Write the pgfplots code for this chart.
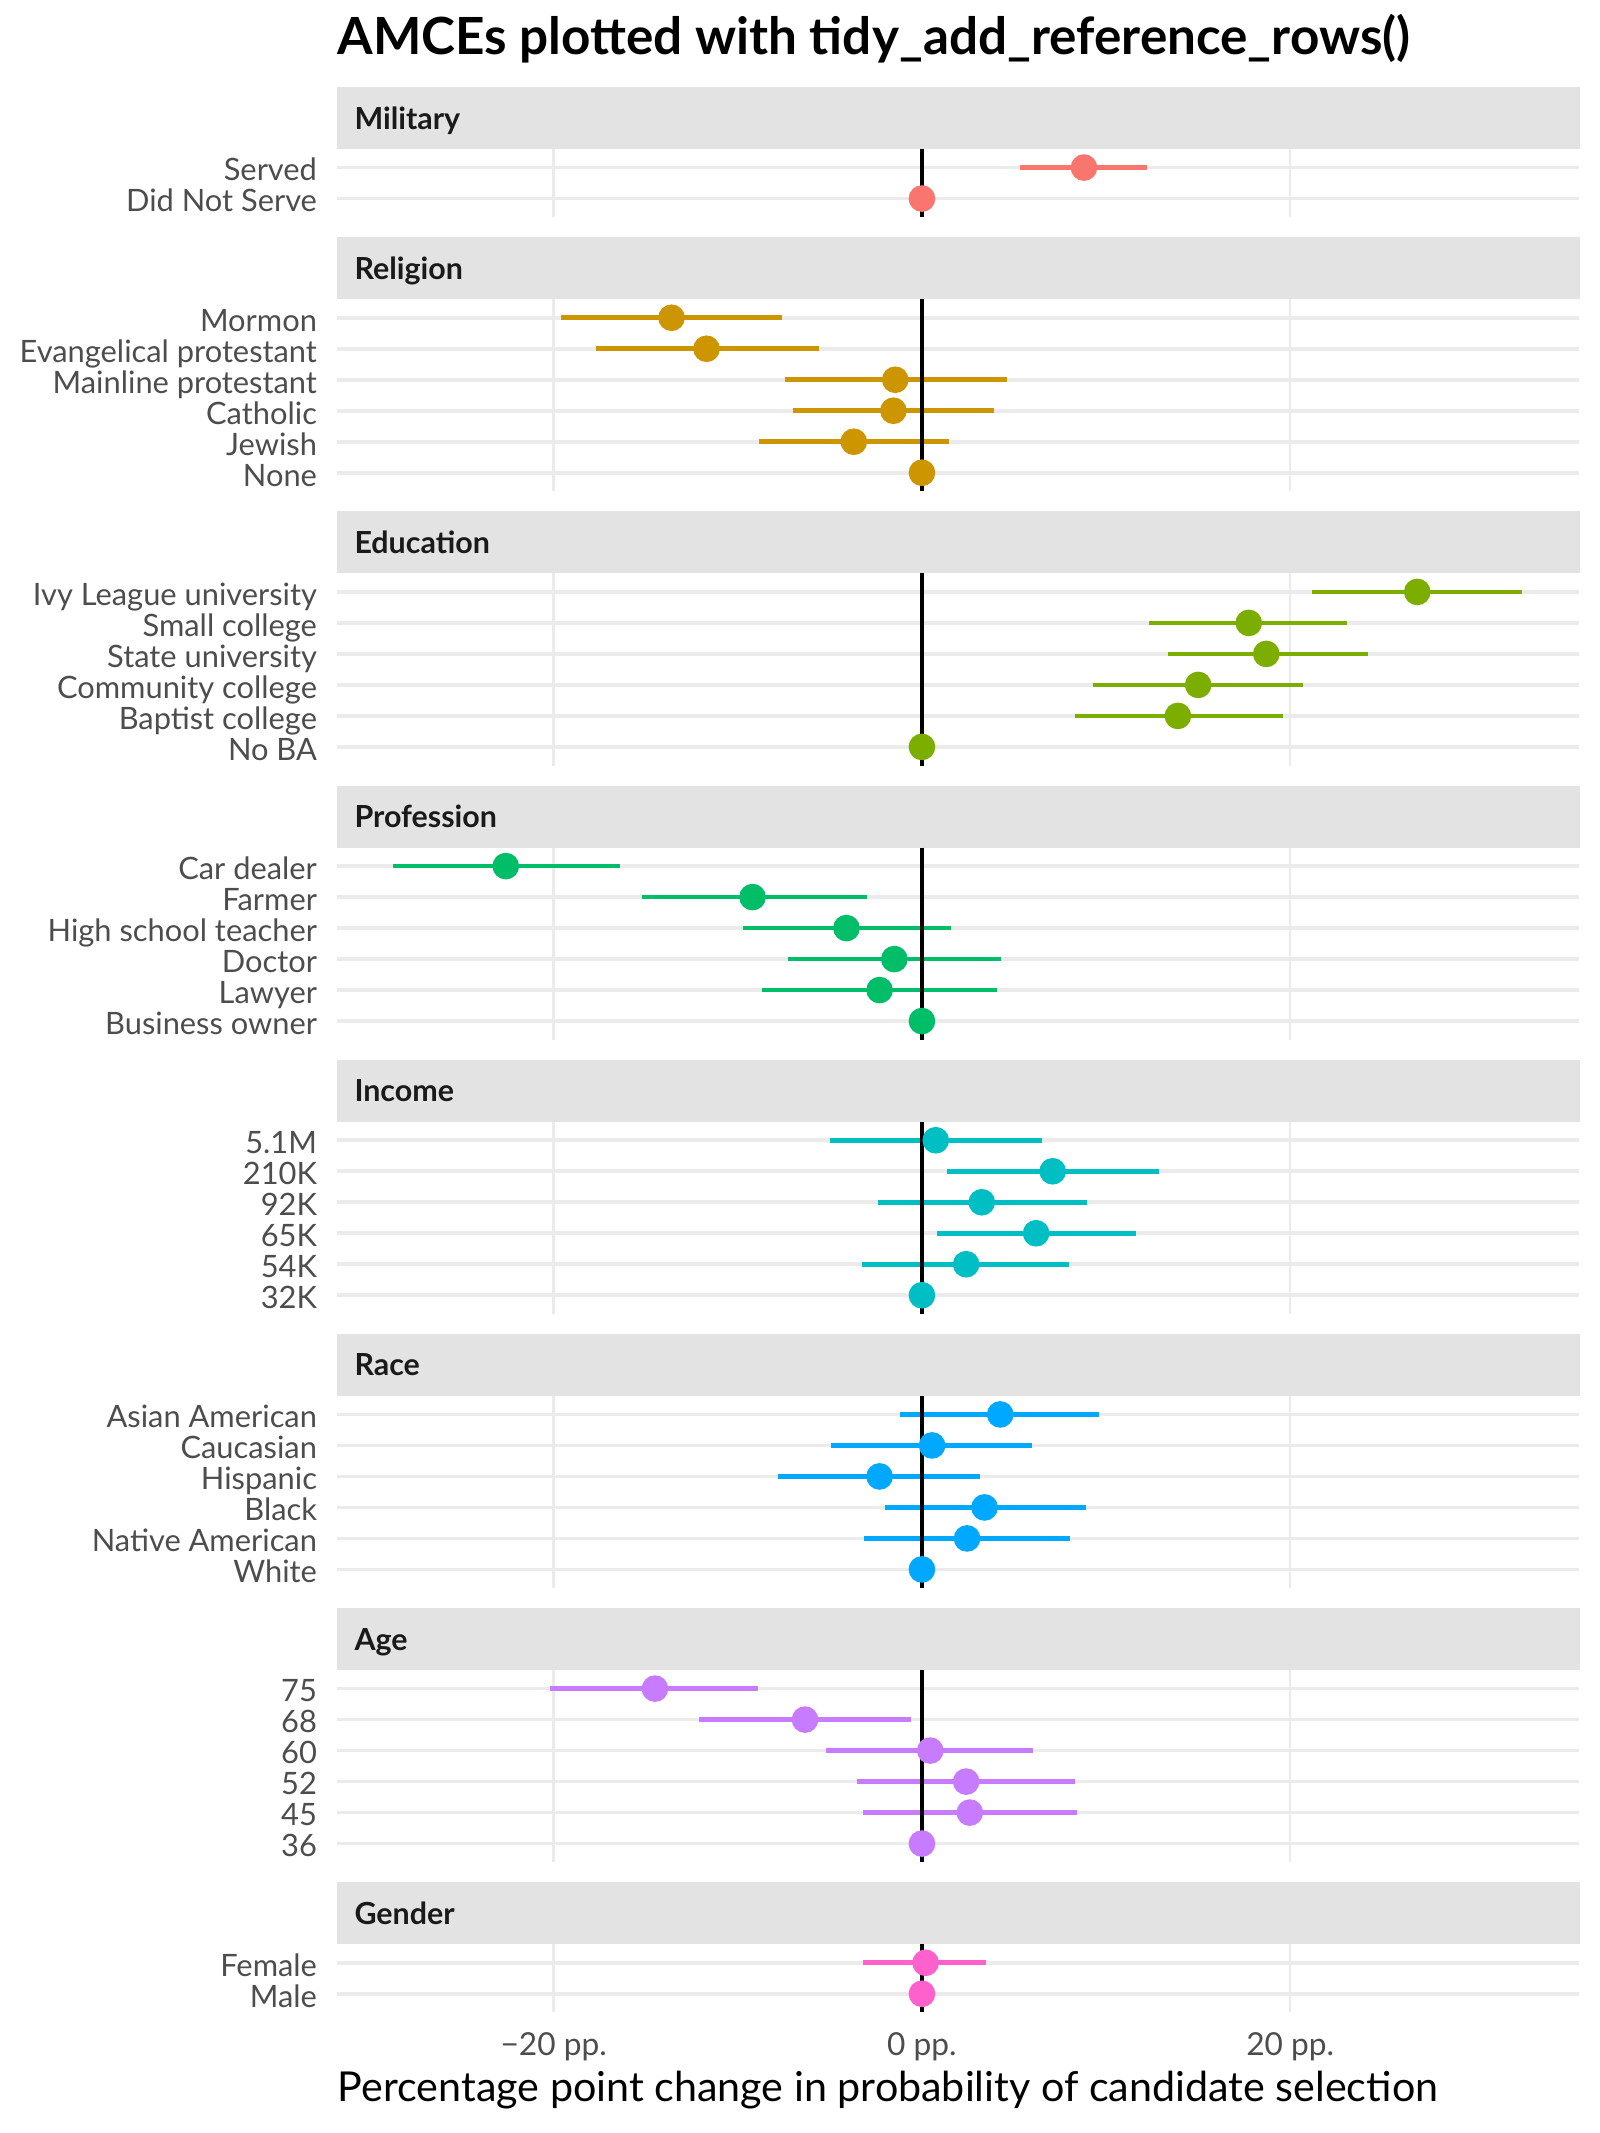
\documentclass[border=0pt]{standalone}
\usepackage{fontspec}
\setmainfont{Lato}
\usepackage{pgfplots}
\usepackage{pgfplotstable}
\pgfplotsset{compat=1.18}
\definecolor{cA}{HTML}{F8766D}
\definecolor{cB}{HTML}{CD9600}
\definecolor{cC}{HTML}{7CAE00}
\definecolor{cD}{HTML}{00BE67}
\definecolor{cE}{HTML}{00BFC4}
\definecolor{cF}{HTML}{00A9FF}
\definecolor{cG}{HTML}{C77CFF}
\definecolor{cH}{HTML}{FF61CC}
\definecolor{gridc}{HTML}{EBEBEB}
\definecolor{stripc}{HTML}{E3E3E3}
\definecolor{labc}{HTML}{4D4D4D}
\definecolor{stripfg}{HTML}{1A1A1A}

\pgfplotstableread{
y est lo hi
1 8.8 5.3 12.2
}\tabMil
\pgfplotstableread{
y est lo hi
1 -13.6 -19.6 -7.6
2 -11.7 -17.7 -5.6
3 -1.45 -7.45 4.6
4 -1.55 -7.0 3.9
5 -3.7 -8.85 1.45
}\tabRel
\pgfplotstableread{
y est lo hi
1 26.9 21.2 32.6
2 17.75 12.35 23.1
3 18.7 13.35 24.2
4 15.0 9.3 20.7
5 13.9 8.3 19.6
}\tabEdu
\pgfplotstableread{
y est lo hi
1 -22.6 -28.7 -16.4
2 -9.2 -15.2 -3.0
3 -4.1 -9.7 1.6
4 -1.5 -7.3 4.3
5 -2.3 -8.7 4.1
}\tabPro
\pgfplotstableread{
y est lo hi
1 0.75 -5.0 6.5
2 7.1 1.35 12.9
3 3.25 -2.4 8.95
4 6.2 0.8 11.6
5 2.4 -3.25 8.0
}\tabInc
\pgfplotstableread{
y est lo hi
1 4.25 -1.2 9.6
2 0.55 -4.95 6.0
3 -2.3 -7.8 3.15
4 3.4 -2.0 8.9
5 2.45 -3.15 8.05
}\tabRace
\pgfplotstableread{
y est lo hi
1 -14.5 -20.2 -8.9
2 -6.35 -12.1 -0.6
3 0.45 -5.2 6.05
4 2.4 -3.55 8.3
5 2.6 -3.2 8.4
}\tabAge
\pgfplotstableread{
y est lo hi
1 0.2 -3.2 3.5
}\tabGen

\pgfplotsset{
  panel/.style={
    scale only axis, width=298.08bp,
    xmin=-31.77, xmax=35.67, ymin=0.4, y dir=reverse,
    axis line style={draw=none}, major tick length=0pt,
    xtick={-20,0,20}, xticklabels={},
    xmajorgrids, ymajorgrids,
    x grid style={color=gridc, line width=0.6bp},
    y grid style={color=gridc, line width=0.9bp},
    yticklabel style={font=\fontsize{7.4bp}{9bp}\selectfont, text=labc,
      inner sep=0pt, xshift=-4.6bp, yshift=-0.5bp, text height=5.4bp, text depth=0pt},
    xticklabel style={font=\fontsize{7.6bp}{9bp}\selectfont, text=labc,
      inner sep=0pt, yshift=-4.6bp, text height=5.5bp, text depth=0pt},
  },
}

% #1 extra axis options, #2 strip top (bp), #3 strip name, #4 n rows, #5 labels, #6 table, #7 colour
\newcommand\drawpanel[7][]{%
  \pgfmathsetmacro\sb{#2+14.88}%
  \pgfmathsetmacro\sm{#2+7.44}%
  \pgfmathsetmacro\ph{(#4+0.2)*7.44}%
  \pgfmathsetmacro\ytop{#4+0.6}%
  \fill[stripc] (80.88bp,-#2bp) rectangle (379.2bp,-\sb bp);
  \node[anchor=west, inner sep=0pt, text height=5.3bp, text depth=0pt,
        font=\fontsize{7.3bp}{9bp}\selectfont\bfseries, text=stripfg]
        at (84.9bp,-\sm bp) {#3};
  \begin{axis}[panel, at={(80.88bp,-\sb bp)}, anchor=north west,
      height=\ph bp, ymax=\ytop, ytick={1,...,#4}, yticklabels={#5}, #1]
    \addplot[only marks, mark=none, forget plot,
      error bars/.cd, x dir=both, x explicit, error mark=none,
      error bar style={draw=#7, line width=1.1bp}]
      table[x=est, y=y,
        x error plus expr=\thisrow{hi}-\thisrow{est},
        x error minus expr=\thisrow{est}-\thisrow{lo}] {#6};
    \addplot[only marks, mark=*, mark size=3bp, color=#7,
      mark options={draw=none, fill=#7}] table[x=est, y=y] {#6};
    \addplot[black, line width=0.95bp] coordinates {(0,0.4) (0,\ytop)};
    \addplot[only marks, mark=*, mark size=3bp, color=#7,
      mark options={draw=none, fill=#7}] coordinates {(0,#4)};
  \end{axis}
}

\begin{document}
\begin{tikzpicture}
\path[use as bounding box] (0,0) rectangle (384bp,-512bp);
\node[anchor=base west, inner sep=0pt, font=\fontsize{12.3bp}{14bp}\selectfont\bfseries]
  at (80.88bp,-13bp) {AMCEs plotted with tidy\_add\_reference\_rows()};

\drawpanel{20.88}{Military}{2}{Served,Did Not Serve}{\tabMil}{cA}
\drawpanel{56.93}{Religion}{6}{Mormon,Evangelical protestant,Mainline protestant,Catholic,Jewish,None}{\tabRel}{cB}
\drawpanel{122.74}{Education}{6}{Ivy League university,Small college,State university,Community college,Baptist college,No BA}{\tabEdu}{cC}
\drawpanel{188.55}{Profession}{6}{Car dealer,Farmer,High school teacher,Doctor,Lawyer,Business owner}{\tabPro}{cD}
\drawpanel{254.36}{Income}{6}{5.1M,210K,92K,65K,54K,32K}{\tabInc}{cE}
\drawpanel{320.17}{Race}{6}{Asian American,Caucasian,Hispanic,Black,Native American,White}{\tabRace}{cF}
\drawpanel{385.98}{Age}{6}{75,68,60,52,45,36}{\tabAge}{cG}
\drawpanel[xticklabels={−20 pp.,0 pp.,20 pp.}]{451.79}{Gender}{2}{Female,Male}{\tabGen}{cH}

\node[anchor=base west, inner sep=0pt, font=\fontsize{9.9bp}{12bp}\selectfont]
  at (80.88bp,-504.5bp) {Percentage point change in probability of candidate selection};
\end{tikzpicture}
\end{document}
